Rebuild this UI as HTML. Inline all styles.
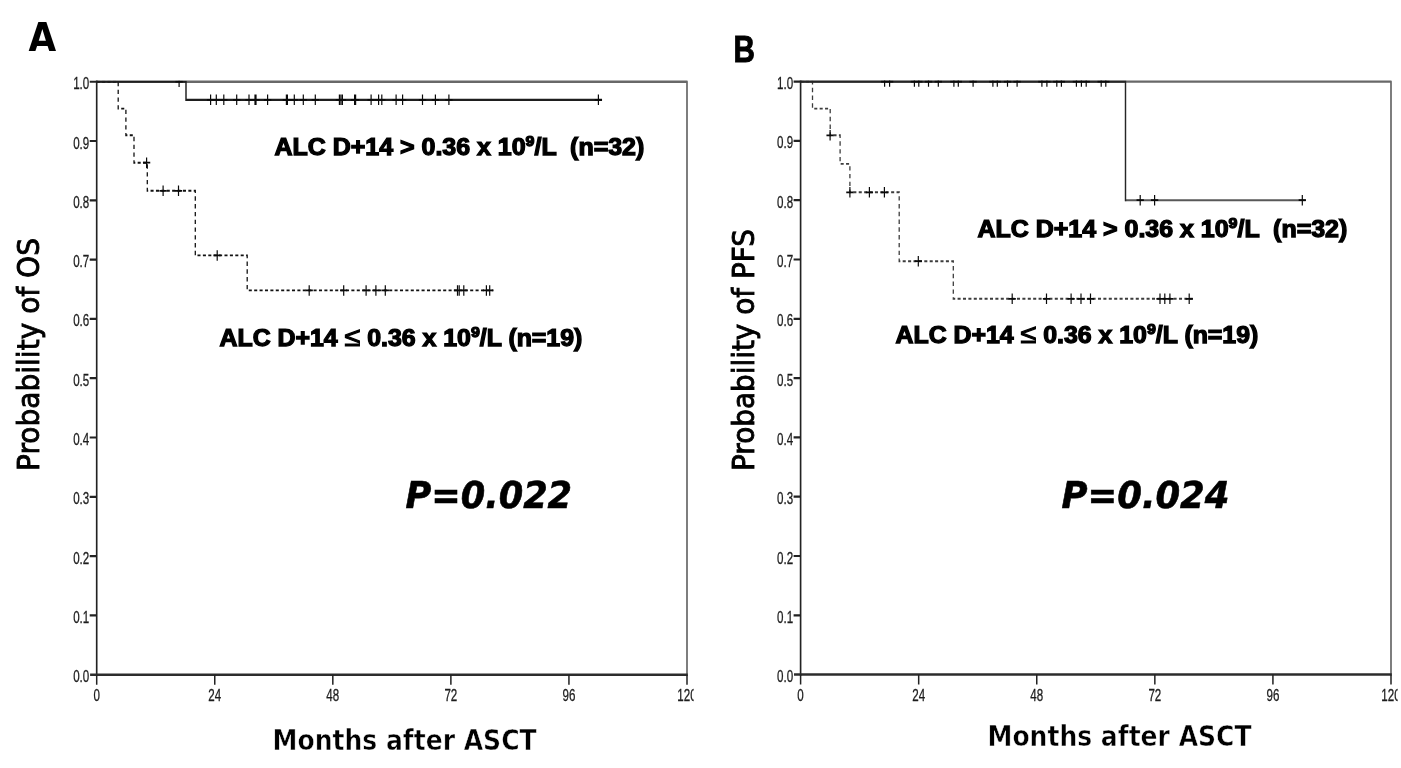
<!DOCTYPE html>
<html lang="en">
<head>
<meta charset="utf-8">
<title>Kaplan-Meier curves: OS and PFS by ALC D+14</title>
<style>html,body{margin:0;padding:0;background:#fff}body{width:1401px;height:768px;overflow:hidden}</style>
</head>
<body>
<svg width="1401" height="768" viewBox="0 0 1401 768" style="display:block;will-change:transform">
<rect width="1401" height="768" fill="#fff"/>
<g transform="scale(1 1.44)">
<path d="M96.7 56.74H687V468.54" fill="none" stroke="#686868" stroke-width="1.7" stroke-linejoin="round"/>
<clipPath id="clipA"><rect x="96.7" y="55.99" width="595.3" height="411.81"/></clipPath>
<g clip-path="url(#clipA)" fill="none">
<path d="M96.7 56.74H118.2V75.42H125.9V93.89H134V112.99H147.3V132.5H195.3V177.36H247.2V201.67H493.3" stroke="#111" stroke-width="1.3" stroke-dasharray="3.05 2.35"/>
<path d="M96.7 56.74H186V69.34H602" stroke="#1e1e1e" stroke-width="1.45"/>
<path d="M210.6 65.69V72.99M206.95 69.34H214.25M216.3 65.69V72.99M212.65 69.34H219.95M223.8 65.69V72.99M220.15 69.34H227.45M236.7 65.69V72.99M233.05 69.34H240.35M249 65.69V72.99M245.35 69.34H252.65M255 65.69V72.99M251.35 69.34H258.65M256 65.69V72.99M252.35 69.34H259.65M267.6 65.69V72.99M263.95 69.34H271.25M286.4 65.69V72.99M282.75 69.34H290.05M287.4 65.69V72.99M283.75 69.34H291.05M294.3 65.69V72.99M290.65 69.34H297.95M303.3 65.69V72.99M299.65 69.34H306.95M315.3 65.69V72.99M311.65 69.34H318.95M339.4 65.69V72.99M335.75 69.34H343.05M340.9 65.69V72.99M337.25 69.34H344.55M342.4 65.69V72.99M338.75 69.34H346.05M354.6 65.69V72.99M350.95 69.34H358.25M355.6 65.69V72.99M351.95 69.34H359.25M371.1 65.69V72.99M367.45 69.34H374.75M378.6 65.69V72.99M374.95 69.34H382.25M381.8 65.69V72.99M378.15 69.34H385.45M396.1 65.69V72.99M392.45 69.34H399.75M402.6 65.69V72.99M398.95 69.34H406.25M422.5 65.69V72.99M418.85 69.34H426.15M435.4 65.69V72.99M431.75 69.34H439.05M448.9 65.69V72.99M445.25 69.34H452.55M598.4 65.69V72.99M594.75 69.34H602.05M146.6 109.34V116.64M142.95 112.99H150.25M163.1 128.85V136.15M159.45 132.5H166.75M178.5 128.85V136.15M174.85 132.5H182.15M217.2 173.71V181.01M213.55 177.36H220.85M309.2 198.02V205.32M305.55 201.67H312.85M343.7 198.02V205.32M340.05 201.67H347.35M366.1 198.02V205.32M362.45 201.67H369.75M375.9 198.02V205.32M372.25 201.67H379.55M385.3 198.02V205.32M381.65 201.67H388.95M457.5 198.02V205.32M453.85 201.67H461.15M459.2 198.02V205.32M455.55 201.67H462.85M463.8 198.02V205.32M460.15 201.67H467.45M486.4 198.02V205.32M482.75 201.67H490.05M489.7 198.02V205.32M486.05 201.67H493.35M179.1 53.09V60.39M175.45 56.74H182.75" stroke="#0a0a0a" stroke-width="1.2"/>
</g>
<path d="M96.7 55.94V469.34" fill="none" stroke="#222" stroke-width="1.65"/>
<path d="M90.1 468.54H687.8" fill="none" stroke="#2c2c2c" stroke-width="1.75"/>
<path d="M89.7 427.36H96.7M89.7 386.18H96.7M89.7 345H96.7M89.7 303.82H96.7M89.7 262.64H96.7M89.7 221.46H96.7M89.7 180.28H96.7M89.7 139.1H96.7M89.7 97.92H96.7M89.7 56.74H96.7" fill="none" stroke="#222" stroke-width="1.5"/>
<path d="M96.7 468.54V475.49M214.76 468.54V475.49M332.82 468.54V475.49M450.88 468.54V475.49M568.94 468.54V475.49M687 468.54V475.49" fill="none" stroke="#222" stroke-width="1.5"/>
<text transform="scale(1 0.935)" x="89.3" y="506.76" text-anchor="end" font-family="Liberation Sans, Arial, sans-serif" font-size="11.6" fill="#1c1c1c" stroke="#1c1c1c" stroke-width="0.2">0.0</text>
<text transform="scale(1 0.935)" x="89.3" y="462.72" text-anchor="end" font-family="Liberation Sans, Arial, sans-serif" font-size="11.6" fill="#1c1c1c" stroke="#1c1c1c" stroke-width="0.2">0.1</text>
<text transform="scale(1 0.935)" x="89.3" y="418.67" text-anchor="end" font-family="Liberation Sans, Arial, sans-serif" font-size="11.6" fill="#1c1c1c" stroke="#1c1c1c" stroke-width="0.2">0.2</text>
<text transform="scale(1 0.935)" x="89.3" y="374.63" text-anchor="end" font-family="Liberation Sans, Arial, sans-serif" font-size="11.6" fill="#1c1c1c" stroke="#1c1c1c" stroke-width="0.2">0.3</text>
<text transform="scale(1 0.935)" x="89.3" y="330.59" text-anchor="end" font-family="Liberation Sans, Arial, sans-serif" font-size="11.6" fill="#1c1c1c" stroke="#1c1c1c" stroke-width="0.2">0.4</text>
<text transform="scale(1 0.935)" x="89.3" y="286.54" text-anchor="end" font-family="Liberation Sans, Arial, sans-serif" font-size="11.6" fill="#1c1c1c" stroke="#1c1c1c" stroke-width="0.2">0.5</text>
<text transform="scale(1 0.935)" x="89.3" y="242.5" text-anchor="end" font-family="Liberation Sans, Arial, sans-serif" font-size="11.6" fill="#1c1c1c" stroke="#1c1c1c" stroke-width="0.2">0.6</text>
<text transform="scale(1 0.935)" x="89.3" y="198.46" text-anchor="end" font-family="Liberation Sans, Arial, sans-serif" font-size="11.6" fill="#1c1c1c" stroke="#1c1c1c" stroke-width="0.2">0.7</text>
<text transform="scale(1 0.935)" x="89.3" y="154.41" text-anchor="end" font-family="Liberation Sans, Arial, sans-serif" font-size="11.6" fill="#1c1c1c" stroke="#1c1c1c" stroke-width="0.2">0.8</text>
<text transform="scale(1 0.935)" x="89.3" y="110.37" text-anchor="end" font-family="Liberation Sans, Arial, sans-serif" font-size="11.6" fill="#1c1c1c" stroke="#1c1c1c" stroke-width="0.2">0.9</text>
<text transform="scale(1 0.935)" x="89.3" y="66.33" text-anchor="end" font-family="Liberation Sans, Arial, sans-serif" font-size="11.6" fill="#1c1c1c" stroke="#1c1c1c" stroke-width="0.2">1.0</text>
<text transform="scale(1 0.935)" x="96.7" y="520.8" text-anchor="middle" font-family="Liberation Sans, Arial, sans-serif" font-size="11.6" fill="#1c1c1c" stroke="#1c1c1c" stroke-width="0.2">0</text>
<text transform="scale(1 0.935)" x="214.76" y="520.8" text-anchor="middle" font-family="Liberation Sans, Arial, sans-serif" font-size="11.6" fill="#1c1c1c" stroke="#1c1c1c" stroke-width="0.2">24</text>
<text transform="scale(1 0.935)" x="332.82" y="520.8" text-anchor="middle" font-family="Liberation Sans, Arial, sans-serif" font-size="11.6" fill="#1c1c1c" stroke="#1c1c1c" stroke-width="0.2">48</text>
<text transform="scale(1 0.935)" x="450.88" y="520.8" text-anchor="middle" font-family="Liberation Sans, Arial, sans-serif" font-size="11.6" fill="#1c1c1c" stroke="#1c1c1c" stroke-width="0.2">72</text>
<text transform="scale(1 0.935)" x="568.94" y="520.8" text-anchor="middle" font-family="Liberation Sans, Arial, sans-serif" font-size="11.6" fill="#1c1c1c" stroke="#1c1c1c" stroke-width="0.2">96</text>
<text transform="scale(1 0.935)" x="687" y="520.8" text-anchor="middle" font-family="Liberation Sans, Arial, sans-serif" font-size="11.6" fill="#1c1c1c" stroke="#1c1c1c" stroke-width="0.2">120</text>
</g>
<rect x="693.7" y="686.7" width="9" height="20" fill="#fff"/>
<g transform="scale(1 1.44)">
<path d="M800.6 56.67H1391V468.47" fill="none" stroke="#686868" stroke-width="1.7" stroke-linejoin="round"/>
<clipPath id="clipB"><rect x="800.6" y="55.92" width="595.4" height="411.81"/></clipPath>
<g clip-path="url(#clipB)" fill="none">
<path d="M800.6 56.67H812.5V75.42H830.2V93.96H840.1V113.82H849.9V133.54H899.2V181.39H953.3V207.5H1192.9" stroke="#3c3c3c" stroke-width="1.3" stroke-dasharray="3.05 2.35"/>
<path d="M1125.5 139.03H1305.7" stroke="#585858" stroke-width="1.45"/>
<path d="M800.6 56.67H1125.5V139.03" stroke="#262626" stroke-width="1.45" stroke-linecap="square"/>
<path d="M1140.2 135.38V142.68M1136.55 139.03H1143.85M1154.6 135.38V142.68M1150.95 139.03H1158.25M1302.3 135.38V142.68M1298.65 139.03H1305.95M830.1 90.31V97.61M826.45 93.96H833.75M849.9 129.89V137.19M846.25 133.54H853.55M869.4 129.89V137.19M865.75 133.54H873.05M884.4 129.89V137.19M880.75 133.54H888.05M918.3 177.74V185.04M914.65 181.39H921.95M1012.2 203.85V211.15M1008.55 207.5H1015.85M1046.5 203.85V211.15M1042.85 207.5H1050.15M1071.1 203.85V211.15M1067.45 207.5H1074.75M1081 203.85V211.15M1077.35 207.5H1084.65M1090.5 203.85V211.15M1086.85 207.5H1094.15M1160 203.85V211.15M1156.35 207.5H1163.65M1164.8 203.85V211.15M1161.15 207.5H1168.45M1169.9 203.85V211.15M1166.25 207.5H1173.55M1189.2 203.85V211.15M1185.55 207.5H1192.85M884.6 53.02V60.32M880.95 56.67H888.25M889.6 53.02V60.32M885.95 56.67H893.25M914.4 53.02V60.32M910.75 56.67H918.05M918.8 53.02V60.32M915.15 56.67H922.45M928.5 53.02V60.32M924.85 56.67H932.15M938.3 53.02V60.32M934.65 56.67H941.95M953.9 53.02V60.32M950.25 56.67H957.55M958.3 53.02V60.32M954.65 56.67H961.95M973.1 53.02V60.32M969.45 56.67H976.75M992.9 53.02V60.32M989.25 56.67H996.55M997.3 53.02V60.32M993.65 56.67H1000.95M1007.5 53.02V60.32M1003.85 56.67H1011.15M1017.1 53.02V60.32M1013.45 56.67H1020.75M1041.9 53.02V60.32M1038.25 56.67H1045.55M1046.9 53.02V60.32M1043.25 56.67H1050.55M1056.8 53.02V60.32M1053.15 56.67H1060.45M1061.4 53.02V60.32M1057.75 56.67H1065.05M1076.4 53.02V60.32M1072.75 56.67H1080.05M1081.4 53.02V60.32M1077.75 56.67H1085.05M1086.2 53.02V60.32M1082.55 56.67H1089.85M1101.2 53.02V60.32M1097.55 56.67H1104.85M1105.8 53.02V60.32M1102.15 56.67H1109.45" stroke="#0a0a0a" stroke-width="1.2"/>
</g>
<path d="M800.6 55.87V469.27" fill="none" stroke="#222" stroke-width="1.65"/>
<path d="M794 468.47H1391.8" fill="none" stroke="#2c2c2c" stroke-width="1.75"/>
<path d="M793.6 427.29H800.6M793.6 386.11H800.6M793.6 344.93H800.6M793.6 303.75H800.6M793.6 262.57H800.6M793.6 221.39H800.6M793.6 180.21H800.6M793.6 139.03H800.6M793.6 97.85H800.6M793.6 56.67H800.6" fill="none" stroke="#222" stroke-width="1.5"/>
<path d="M800.6 468.47V475.42M918.68 468.47V475.42M1036.76 468.47V475.42M1154.84 468.47V475.42M1272.92 468.47V475.42M1391 468.47V475.42" fill="none" stroke="#222" stroke-width="1.5"/>
<text transform="scale(1 0.935)" x="793.2" y="506.68" text-anchor="end" font-family="Liberation Sans, Arial, sans-serif" font-size="11.6" fill="#1c1c1c" stroke="#1c1c1c" stroke-width="0.2">0.0</text>
<text transform="scale(1 0.935)" x="793.2" y="462.64" text-anchor="end" font-family="Liberation Sans, Arial, sans-serif" font-size="11.6" fill="#1c1c1c" stroke="#1c1c1c" stroke-width="0.2">0.1</text>
<text transform="scale(1 0.935)" x="793.2" y="418.6" text-anchor="end" font-family="Liberation Sans, Arial, sans-serif" font-size="11.6" fill="#1c1c1c" stroke="#1c1c1c" stroke-width="0.2">0.2</text>
<text transform="scale(1 0.935)" x="793.2" y="374.55" text-anchor="end" font-family="Liberation Sans, Arial, sans-serif" font-size="11.6" fill="#1c1c1c" stroke="#1c1c1c" stroke-width="0.2">0.3</text>
<text transform="scale(1 0.935)" x="793.2" y="330.51" text-anchor="end" font-family="Liberation Sans, Arial, sans-serif" font-size="11.6" fill="#1c1c1c" stroke="#1c1c1c" stroke-width="0.2">0.4</text>
<text transform="scale(1 0.935)" x="793.2" y="286.47" text-anchor="end" font-family="Liberation Sans, Arial, sans-serif" font-size="11.6" fill="#1c1c1c" stroke="#1c1c1c" stroke-width="0.2">0.5</text>
<text transform="scale(1 0.935)" x="793.2" y="242.42" text-anchor="end" font-family="Liberation Sans, Arial, sans-serif" font-size="11.6" fill="#1c1c1c" stroke="#1c1c1c" stroke-width="0.2">0.6</text>
<text transform="scale(1 0.935)" x="793.2" y="198.38" text-anchor="end" font-family="Liberation Sans, Arial, sans-serif" font-size="11.6" fill="#1c1c1c" stroke="#1c1c1c" stroke-width="0.2">0.7</text>
<text transform="scale(1 0.935)" x="793.2" y="154.34" text-anchor="end" font-family="Liberation Sans, Arial, sans-serif" font-size="11.6" fill="#1c1c1c" stroke="#1c1c1c" stroke-width="0.2">0.8</text>
<text transform="scale(1 0.935)" x="793.2" y="110.29" text-anchor="end" font-family="Liberation Sans, Arial, sans-serif" font-size="11.6" fill="#1c1c1c" stroke="#1c1c1c" stroke-width="0.2">0.9</text>
<text transform="scale(1 0.935)" x="793.2" y="66.25" text-anchor="end" font-family="Liberation Sans, Arial, sans-serif" font-size="11.6" fill="#1c1c1c" stroke="#1c1c1c" stroke-width="0.2">1.0</text>
<text transform="scale(1 0.935)" x="800.6" y="520.72" text-anchor="middle" font-family="Liberation Sans, Arial, sans-serif" font-size="11.6" fill="#1c1c1c" stroke="#1c1c1c" stroke-width="0.2">0</text>
<text transform="scale(1 0.935)" x="918.68" y="520.72" text-anchor="middle" font-family="Liberation Sans, Arial, sans-serif" font-size="11.6" fill="#1c1c1c" stroke="#1c1c1c" stroke-width="0.2">24</text>
<text transform="scale(1 0.935)" x="1036.76" y="520.72" text-anchor="middle" font-family="Liberation Sans, Arial, sans-serif" font-size="11.6" fill="#1c1c1c" stroke="#1c1c1c" stroke-width="0.2">48</text>
<text transform="scale(1 0.935)" x="1154.84" y="520.72" text-anchor="middle" font-family="Liberation Sans, Arial, sans-serif" font-size="11.6" fill="#1c1c1c" stroke="#1c1c1c" stroke-width="0.2">72</text>
<text transform="scale(1 0.935)" x="1272.92" y="520.72" text-anchor="middle" font-family="Liberation Sans, Arial, sans-serif" font-size="11.6" fill="#1c1c1c" stroke="#1c1c1c" stroke-width="0.2">96</text>
<text transform="scale(1 0.935)" x="1391" y="520.72" text-anchor="middle" font-family="Liberation Sans, Arial, sans-serif" font-size="11.6" fill="#1c1c1c" stroke="#1c1c1c" stroke-width="0.2">120</text>
</g>
<rect x="1397.7" y="686.6" width="9" height="20" fill="#fff"/>
<text x="274.5" y="154.7" textLength="369.8" lengthAdjust="spacingAndGlyphs" font-family="Liberation Sans, Arial, sans-serif" font-weight="bold" font-size="23.3" fill="#000" stroke="#000" stroke-width="1.25" style="white-space:pre">ALC D+14 &gt; 0.36 x 10<tspan font-size="15" dy="-8.4">9</tspan><tspan dy="8.4">/L  (n=32)</tspan></text>
<text x="219.5" y="345.7" textLength="362.8" lengthAdjust="spacingAndGlyphs" font-family="Liberation Sans, Arial, sans-serif" font-weight="bold" font-size="23.3" fill="#000" stroke="#000" stroke-width="1.25" style="white-space:pre">ALC D+14 <tspan font-weight="normal" font-size="27" stroke-width="1.1">≤</tspan> 0.36 x 10<tspan font-size="15" dy="-8.4">9</tspan><tspan dy="8.4">/L (n=19)</tspan></text>
<text x="977.5" y="236.7" textLength="369.8" lengthAdjust="spacingAndGlyphs" font-family="Liberation Sans, Arial, sans-serif" font-weight="bold" font-size="23.3" fill="#000" stroke="#000" stroke-width="1.25" style="white-space:pre">ALC D+14 &gt; 0.36 x 10<tspan font-size="15" dy="-8.4">9</tspan><tspan dy="8.4">/L  (n=32)</tspan></text>
<text x="895.5" y="342.7" textLength="362.8" lengthAdjust="spacingAndGlyphs" font-family="Liberation Sans, Arial, sans-serif" font-weight="bold" font-size="23.3" fill="#000" stroke="#000" stroke-width="1.25" style="white-space:pre">ALC D+14 <tspan font-weight="normal" font-size="27" stroke-width="1.1">≤</tspan> 0.36 x 10<tspan font-size="15" dy="-8.4">9</tspan><tspan dy="8.4">/L (n=19)</tspan></text>
<text x="405.6" y="507.9" textLength="166.5" lengthAdjust="spacingAndGlyphs" font-family="DejaVu Sans, Liberation Sans, sans-serif" font-weight="bold" font-style="italic" font-size="36.6" fill="#000" stroke="#000" stroke-width="0.6">P=0.022</text>
<text x="1061.5" y="507.9" textLength="168" lengthAdjust="spacingAndGlyphs" font-family="DejaVu Sans, Liberation Sans, sans-serif" font-weight="bold" font-style="italic" font-size="36.6" fill="#000" stroke="#000" stroke-width="0.6">P=0.024</text>
<text x="272.6" y="749.8" textLength="264" lengthAdjust="spacingAndGlyphs" font-family="DejaVu Sans, Liberation Sans, sans-serif" font-weight="bold" font-size="28.6" fill="#000" stroke="#fff" stroke-width="0.5">Months after ASCT</text>
<text x="987.5" y="745.8" textLength="264" lengthAdjust="spacingAndGlyphs" font-family="DejaVu Sans, Liberation Sans, sans-serif" font-weight="bold" font-size="28.6" fill="#000" stroke="#fff" stroke-width="0.5">Months after ASCT</text>
<text transform="translate(39.4 471) rotate(-90)" x="0" y="0" textLength="233" lengthAdjust="spacingAndGlyphs" font-family="DejaVu Sans, Liberation Sans, sans-serif" font-size="31" fill="#000" stroke="#000" stroke-width="0.9">Probability of OS</text>
<text transform="translate(754.4 471) rotate(-90)" x="0" y="0" textLength="242" lengthAdjust="spacingAndGlyphs" font-family="DejaVu Sans, Liberation Sans, sans-serif" font-size="31" fill="#000" stroke="#000" stroke-width="0.9">Probability of PFS</text>
<text x="28.6" y="50.9" textLength="27.7" lengthAdjust="spacingAndGlyphs" font-family="DejaVu Sans, Liberation Sans, sans-serif" font-weight="bold" font-size="38.4" fill="#000">A</text>
<text x="733.6" y="62.4" textLength="21.4" lengthAdjust="spacingAndGlyphs" font-family="Liberation Sans, Arial, sans-serif" font-weight="bold" font-size="37.3" fill="#000" stroke="#000" stroke-width="1">B</text>
</svg>
</body>
</html>
